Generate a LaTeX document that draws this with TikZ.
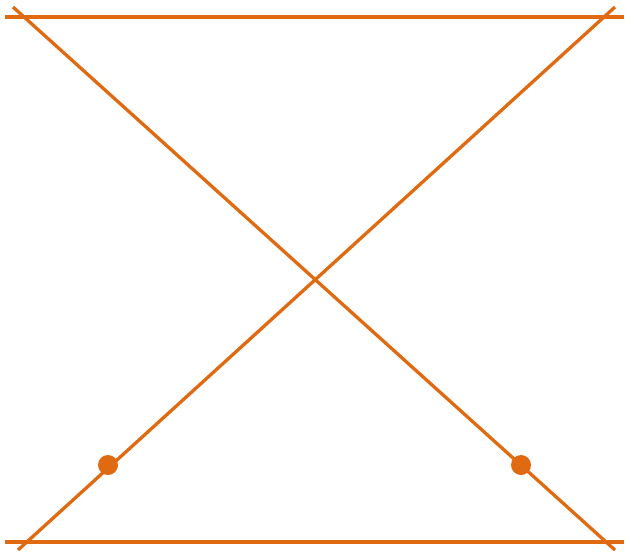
\documentclass[tikz,border=0pt]{standalone}
\usepackage{tikz}
\usepackage{xcolor}
\definecolor{burnt}{RGB}{224,106,18}

\begin{document}
\begin{tikzpicture}[x=1pt,y=-1pt,line width=3.3pt,
  dot/.style={circle,fill=burnt,inner sep=0pt,minimum size=20pt}]
\useasboundingbox (0,0) rectangle (631,558);
\coordinate (tl) at (5,17);
\coordinate (tr) at (624,17);
\coordinate (bl) at (5,542);
\coordinate (br) at (624,542);
\coordinate (a1) at (13,7);
\coordinate (a2) at (615,550);
\coordinate (b1) at (18,550);
\coordinate (b2) at (615,7);
\draw[burnt] (tl) -- (tr);
\draw[burnt] (bl) -- (br);
\draw[burnt] (a1) -- (a2);
\draw[burnt] (b1) -- (b2);
\node[dot] (p) at (108,465) {};
\node[dot] (q) at (521,465) {};
\end{tikzpicture}
\end{document}
